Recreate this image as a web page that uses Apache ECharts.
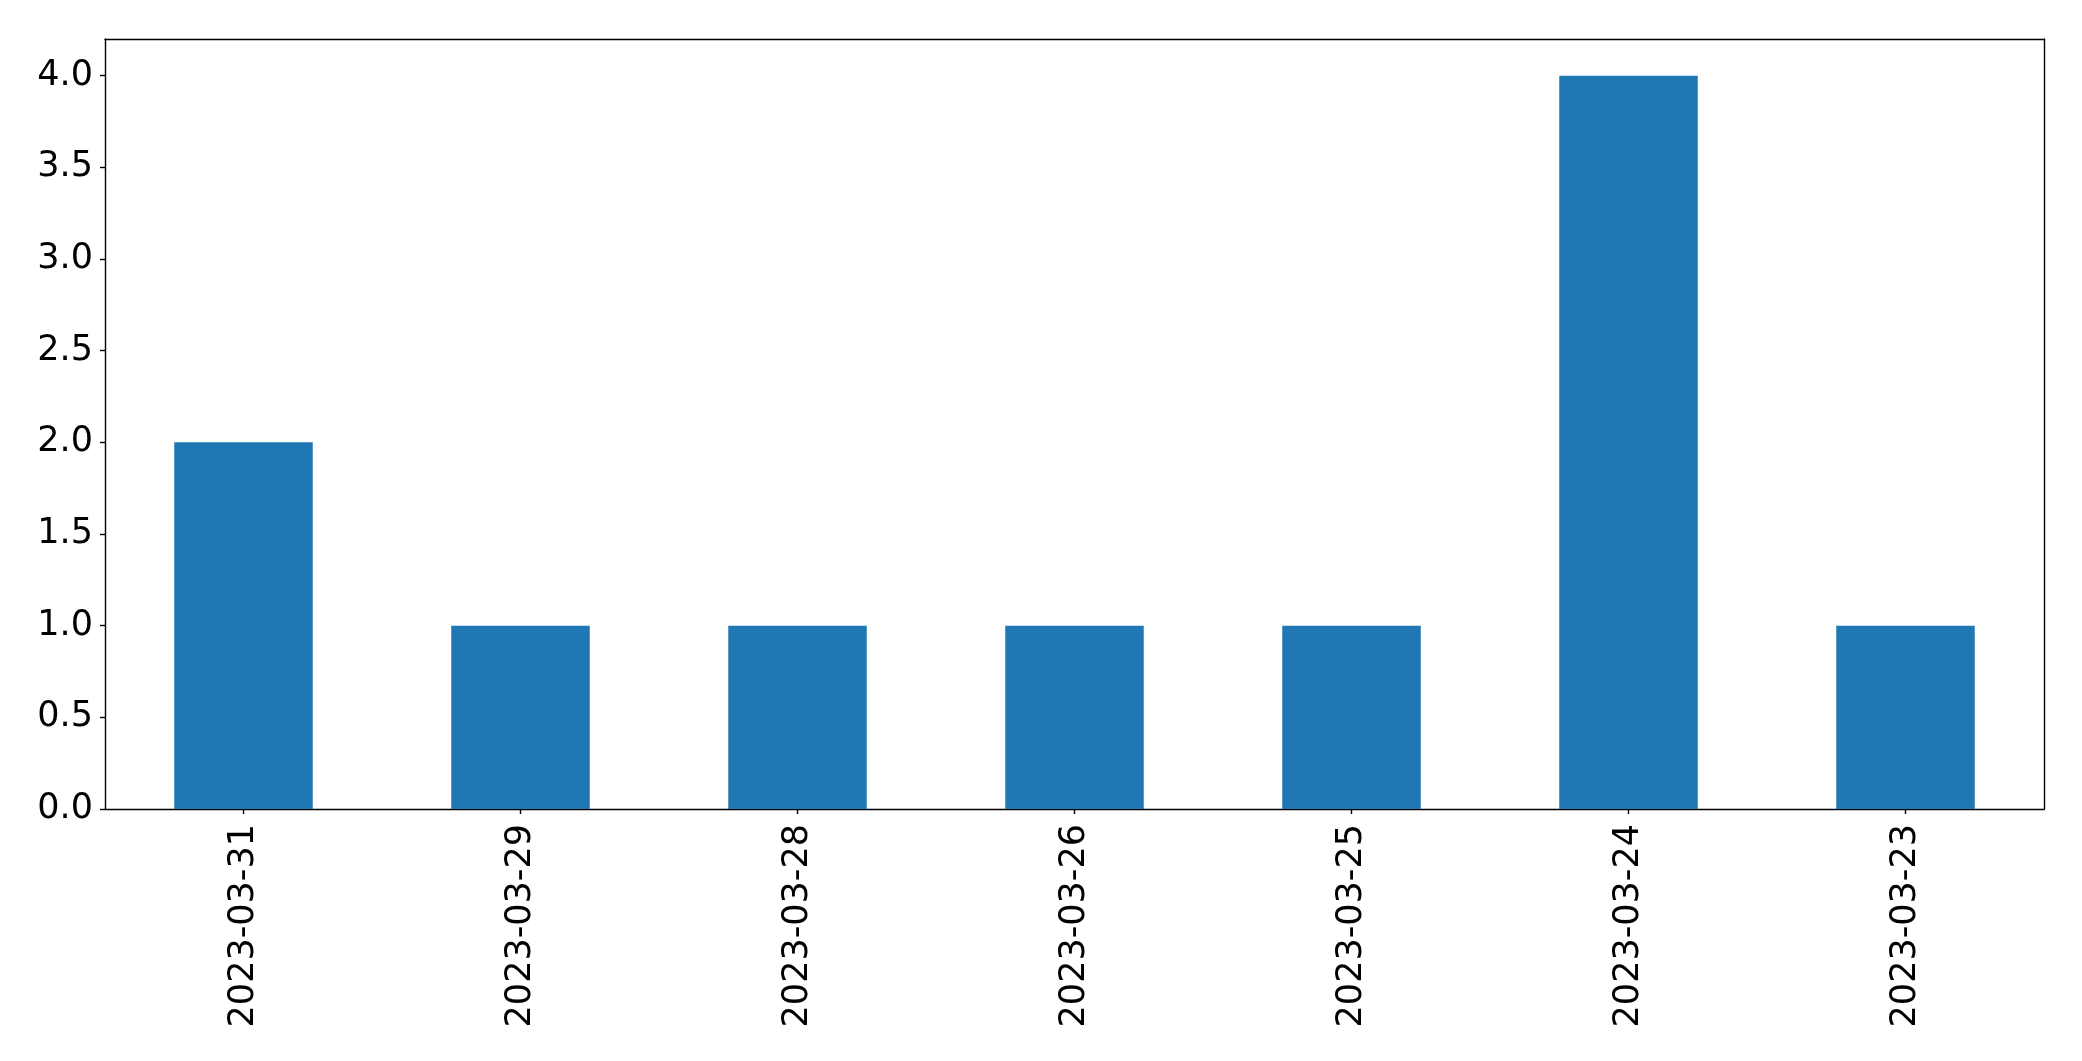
<!DOCTYPE html>
<html>
<head>
<meta charset="utf-8">
<style>
  html, body { margin: 0; padding: 0; background: #fff; }
  #chart { width: 2082px; height: 1061px; }
</style>
<script src="https://cdn.jsdelivr.net/npm/echarts@6/dist/echarts.min.js"></script>
</head>
<body>
<div id="chart"></div>
<script>
// dates in the order they appear, and the count for each
const dates = ['2023-03-31', '2023-03-29', '2023-03-28', '2023-03-26', '2023-03-25', '2023-03-24', '2023-03-23'];
const counts = [2, 1, 1, 1, 1, 4, 1];
const yTicks = [0, 0.5, 1, 1.5, 2, 2.5, 3, 3.5, 4];

const font = 'DejaVu Sans';
const spine = { show: true, onZero: false, lineStyle: { color: '#000', width: 1.4 } };
const tickStyle = { color: '#000', width: 1.4 };

const chart = echarts.init(document.getElementById('chart'), null, { renderer: 'canvas' });

chart.setOption({
	animation: false,
	backgroundColor: '#fff',
	grid: { left: 105, top: 39, right: 38, bottom: 252, containLabel: false },
	xAxis: [
		{
			type: 'category',
			data: dates,
			axisLine: spine,
			axisTick: { show: true, alignWithLabel: true, length: 5, lineStyle: tickStyle },
			axisLabel: { rotate: 90, margin: 15, fontFamily: font, fontSize: 35, color: '#000' },
			splitLine: { show: false }
		},
		// top spine
		{ type: 'category', position: 'top', data: dates, axisLine: spine, axisTick: { show: false }, axisLabel: { show: false } }
	],
	yAxis: [
		{
			type: 'value',
			min: 0,
			max: 4.2,
			interval: 0.5,
			axisLine: spine,
			// 4.2 is only the frame top, no tick or label there
			axisTick: { show: true, length: 5, lineStyle: tickStyle, customValues: yTicks },
			axisLabel: {
				margin: 12,
				fontFamily: font,
				fontSize: 35,
				color: '#000',
				padding: [4, 0, 0, 0],
				customValues: yTicks,
				formatter: v => v.toFixed(1)
			},
			splitLine: { show: false }
		},
		// right spine
		{ type: 'value', position: 'right', min: 0, max: 4.2, axisLine: spine, axisTick: { show: false }, axisLabel: { show: false }, splitLine: { show: false } }
	],
	series: [
		{
			type: 'bar',
			data: counts,
			barCategoryGap: '50%',
			itemStyle: { color: '#1f77b4' }
		}
	]
});
</script>
</body>
</html>
